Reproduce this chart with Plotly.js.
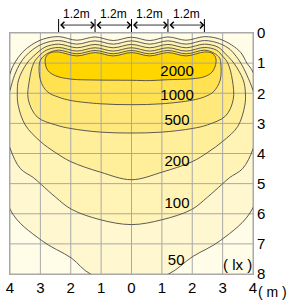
<!DOCTYPE html>
<html>
<head>
<meta charset="utf-8">
<script src="https://cdn.plot.ly/plotly-3.0.1.min.js"></script>
<style>html,body{margin:0;padding:0;background:#fff;}#chart{width:287px;height:300px;}</style>
</head>
<body>
<div id="chart"></div>
<script>
// ---- data (metres / lux) ----
const lumX = [-2.4, -1.2, 0, 1.2, 2.4];
const spanLabel = ['1.2m', '1.2m', '1.2m', '1.2m'];
const xTicks = [-4, -3, -2, -1, 0, 1, 2, 3, 4];
const xTickText = ['4', '3', '2', '1', '0', '1', '2', '3', '4'];
const yTicks = [0, 1, 2, 3, 4, 5, 6, 7, 8];
const levels = ['50', '100', '200', '500', '1000', '2000'];
const levelLabelX = [1.47, 1.5, 1.5, 1.5, 1.5, 1.5];
const levelLabelY = [7.57, 5.68, 4.3, 2.92, 2.09, 1.31];

const c50x = [-4.0,-3.85,-3.6,-3.3,-2.9,-2.4,-1.8,-1.2,-0.6,0,0.6,1.2,1.8,2.4,2.9,3.3,3.6,3.8,4.0,4.4,4.0,2.94,2.0,1.22,0,-1.35,-1.98,-2.97,-4.0,-4.4];
const c50y = [1.35,1.0,0.65,0.4,0.2,0.12,0.24,0.13,0.25,0.14,0.25,0.13,0.24,0.12,0.2,0.4,0.65,1.0,1.3,3.0,5.8,6.88,7.43,8.0,8.3,8.0,7.47,6.88,5.85,3.0];

const c100x = [-4.0,-3.85,-3.66,-3.5,-3.25,-2.9,-2.4,-1.8,-1.2,-0.6,0,0.6,1.2,1.8,2.4,2.9,3.25,3.45,3.6,3.8,4.0,4.25,4.0,3.66,3.23,2.97,2.5,1.98,1.0,0,-1.02,-1.98,-2.5,-2.97,-3.23,-3.66,-4.0,-4.25];
const c100y = [1.9,1.4,1.0,0.78,0.55,0.35,0.25,0.37,0.26,0.37,0.26,0.37,0.26,0.37,0.25,0.35,0.55,0.78,1.0,1.4,1.9,2.8,3.85,4.5,4.8,5.03,5.45,5.86,6.2,6.36,6.2,5.85,5.45,5.03,4.8,4.5,3.82,2.8];

const c200x = [-3.76,-3.72,-3.44,-3.15,-2.85,-2.4,-1.8,-1.2,-0.6,0,0.6,1.2,1.8,2.4,2.85,3.1,3.37,3.68,3.75,3.73,3.5,3.0,2.5,2.0,1.0,0,-1.02,-2.0,-2.5,-3.0,-3.5,-3.73];
const c200y = [2.0,1.56,1.0,0.7,0.47,0.37,0.49,0.38,0.49,0.38,0.49,0.38,0.49,0.37,0.47,0.7,1.0,1.56,2.0,2.4,3.1,3.6,3.97,4.27,4.62,4.87,4.62,4.27,3.97,3.6,3.05,2.4];

const c500x = [-3.4,-3.36,-3.22,-3.05,-2.8,-2.4,-1.8,-1.2,-0.6,0,0.6,1.2,1.8,2.4,2.8,3.0,3.17,3.32,3.35,3.1,2.5,2.0,1.0,0,-1.02,-2.0,-2.5,-3.1];
const c500y = [2.2,1.56,1.0,0.77,0.57,0.48,0.6,0.49,0.6,0.49,0.6,0.49,0.6,0.48,0.57,0.77,1.0,1.56,2.2,2.75,3.05,3.17,3.29,3.32,3.29,3.17,3.05,2.79];

const c1000x = [-3.0,-3.03,-2.95,-2.75,-2.4,-1.8,-1.2,-0.6,0,0.6,1.2,1.8,2.4,2.72,2.9,2.94,2.92,2.7,2.4,2.0,1.0,0,-1.02,-2.0,-2.4,-2.77];
const c1000y = [1.56,1.0,0.83,0.67,0.57,0.69,0.58,0.69,0.58,0.69,0.58,0.69,0.57,0.67,0.83,1.0,1.56,1.95,2.12,2.23,2.35,2.38,2.35,2.24,2.13,1.95];

const c2000x = [-2.84,-2.82,-2.68,-2.4,-1.8,-1.2,-0.6,0,0.6,1.2,1.8,2.4,2.65,2.77,2.77,2.65,2.4,2.0,1.2,0.6,0,-1.2,-2.0,-2.5,-2.75];
const c2000y = [1.0,0.8,0.66,0.63,0.76,0.65,0.76,0.65,0.76,0.65,0.76,0.63,0.67,0.82,1.05,1.3,1.45,1.52,1.55,1.58,1.57,1.56,1.53,1.42,1.25];

const contourX = [c50x, c100x, c200x, c500x, c1000x, c2000x];
const contourY = [c50y, c100y, c200y, c500y, c1000y, c2000y];

// ---- styles ----
const bandColors = ['#FFF7CF', '#FFF3B6', '#FFEE9A', '#FFE97C', '#FFE152', '#FFD600'];
const outsideColor = '#FFFCE8';
const lineColor = '#4a4a4a';
const gridColor = '#a9a9a9';
const FONT = 'Liberation Sans, Arial, sans-serif';

const traces = [];
// filled bands
contourX.forEach((xs, i) => {
  traces.push({
    type: 'scatter', mode: 'lines', x: xs, y: contourY[i],
    fill: 'toself', fillcolor: bandColors[i],
    line: {width: 0, shape: 'spline', smoothing: 1, color: bandColors[i]},
    hoverinfo: 'skip', showlegend: false
  });
});
// grid on top of the fills
const gx = [], gy = [];
xTicks.forEach(v => { gx.push(v, v, null); gy.push(yTicks[0], yTicks[yTicks.length - 1], null); });
yTicks.forEach(v => { gx.push(xTicks[0], xTicks[xTicks.length - 1], null); gy.push(v, v, null); });
traces.push({type: 'scatter', mode: 'lines', x: gx, y: gy, line: {color: gridColor, width: 1},
  hoverinfo: 'skip', showlegend: false, connectgaps: false});
// contour outlines
contourX.forEach((xs, i) => {
  traces.push({
    type: 'scatter', mode: 'lines', x: xs.concat([xs[0]]), y: contourY[i].concat([contourY[i][0]]),
    line: {width: 0.9, shape: 'spline', smoothing: 1, color: lineColor},
    hoverinfo: 'skip', showlegend: false
  });
});
// contour labels
traces.push({type: 'scatter', mode: 'text', x: levelLabelX, y: levelLabelY, text: levels,
  textfont: {family: FONT, size: 15, color: '#000'}, textposition: 'middle center',
  hoverinfo: 'skip', showlegend: false, cliponaxis: false});

const annotations = [];
const shapes = [];
const arrowY = 1.033;
for (let i = 0; i < lumX.length - 1; i++) {
  annotations.push({
    x: lumX[i + 1], y: arrowY, xref: 'x', yref: 'paper',
    ax: lumX[i], ay: 0, axref: 'x', ayref: 'pixel',
    text: '', showarrow: true, arrowside: 'end+start',
    arrowhead: 4, startarrowhead: 4, arrowsize: 1.6, startarrowsize: 1.6,
    arrowwidth: 0.8, arrowcolor: '#000', standoff: 0, startstandoff: 0
  });
  annotations.push({
    x: (lumX[i] + lumX[i + 1]) / 2, y: 1.079, xref: 'x', yref: 'paper',
    xanchor: 'center', yanchor: 'middle',
    text: spanLabel[i], showarrow: false, font: {family: FONT, size: 12, color: '#000'}
  });
}
lumX.forEach(v => {
  shapes.push({type: 'line', xref: 'x', yref: 'paper', x0: v, x1: v, y0: 1.004, y1: 1.058,
    line: {color: '#000', width: 1}});
});
annotations.push({x: 3.5, y: 7.67, xref: 'x', yref: 'y', xanchor: 'center', yanchor: 'middle',
  text: '( lx )', showarrow: false, font: {family: FONT, size: 15, color: '#000'}});
annotations.push({x: 1.082, y: -0.076, xref: 'paper', yref: 'paper', xanchor: 'center', yanchor: 'middle',
  text: '( m )', showarrow: false, font: {family: FONT, size: 14, color: '#000'}});

const layout = {
  width: 287, height: 300,
  margin: {l: 10, r: 34, t: 33, b: 26, pad: 0},
  paper_bgcolor: '#ffffff', plot_bgcolor: outsideColor,
  showlegend: false,
  xaxis: {range: [-4, 4], tickvals: xTicks, ticktext: xTickText, showgrid: false, zeroline: false,
    showline: true, mirror: true, linecolor: gridColor, linewidth: 1, ticks: '',
    tickfont: {family: FONT, size: 15, color: '#000'}, fixedrange: true},
  yaxis: {range: [8, 0], tickvals: yTicks, side: 'right', showgrid: false, zeroline: false,
    showline: true, mirror: true, linecolor: gridColor, linewidth: 1, ticks: '',
    tickfont: {family: FONT, size: 15, color: '#000'}, fixedrange: true},
  annotations: annotations, shapes: shapes
};

Plotly.newPlot('chart', traces, layout, {staticPlot: true, displayModeBar: false});
</script>
</body>
</html>
